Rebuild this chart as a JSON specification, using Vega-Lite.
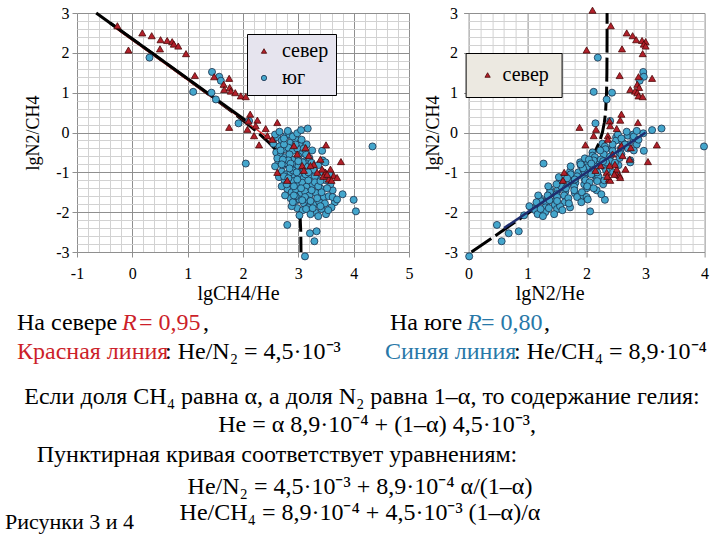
{
"$schema":"https://vega.github.io/schema/vega-lite/v6.json",
"background":"white",
"padding":{"left":5,"top":5,"right":0,"bottom":0},
"config":{"font":"Liberation Serif","view":{"stroke":null},
 "axis":{"labelFont":"Liberation Serif","titleFont":"Liberation Serif","labelFontSize":16,"titleFontSize":18,"titleFontWeight":"normal","labelColor":"#000","titleColor":"#000","domain":false,"tickColor":"#8f8f8f","gridOpacity":1,"labelOverlap":false,"labelFlush":false,"labelBound":false}},
"datasets":{
"pts":[
{"g":"юг","a":2.62,"b":-0.12,"c":2.50},{"g":"юг","a":2.70,"b":-0.20,"c":2.50},{"g":"юг","a":2.78,"b":-0.08,"c":2.70},{"g":"юг","a":2.86,"b":-0.25,"c":2.61},{"g":"юг","a":2.94,"b":-0.15,"c":2.79},{"g":"юг","a":3.02,"b":-0.30,"c":2.72},{"g":"юг","a":2.55,"b":-0.28,"c":2.27},{"g":"юг","a":2.66,"b":-0.35,"c":2.31},{"g":"юг","a":2.74,"b":-0.42,"c":2.32},{"g":"юг","a":2.82,"b":-0.38,"c":2.44},
{"g":"юг","a":2.90,"b":-0.46,"c":2.44},{"g":"юг","a":2.98,"b":-0.40,"c":2.58},{"g":"юг","a":3.08,"b":-0.52,"c":2.56},{"g":"юг","a":2.60,"b":-0.50,"c":2.10},{"g":"юг","a":2.68,"b":-0.58,"c":2.10},{"g":"юг","a":2.76,"b":-0.62,"c":2.14},{"g":"юг","a":2.84,"b":-0.55,"c":2.29},{"g":"юг","a":2.92,"b":-0.68,"c":2.24},{"g":"юг","a":3.00,"b":-0.60,"c":2.40},{"g":"юг","a":3.12,"b":-0.72,"c":2.40},
{"g":"юг","a":3.20,"b":-0.64,"c":2.56},{"g":"юг","a":2.64,"b":-0.75,"c":1.89},{"g":"юг","a":2.72,"b":-0.82,"c":1.90},{"g":"юг","a":2.80,"b":-0.78,"c":2.02},{"g":"юг","a":2.88,"b":-0.88,"c":2.00},{"g":"юг","a":2.96,"b":-0.80,"c":2.16},{"g":"юг","a":3.04,"b":-0.92,"c":2.12},{"g":"юг","a":3.16,"b":-0.86,"c":2.30},{"g":"юг","a":3.28,"b":-0.95,"c":2.33},{"g":"юг","a":2.70,"b":-0.98,"c":1.72},
{"g":"юг","a":2.78,"b":-1.05,"c":1.73},{"g":"юг","a":2.86,"b":-1.00,"c":1.86},{"g":"юг","a":2.94,"b":-1.10,"c":1.84},{"g":"юг","a":3.02,"b":-1.04,"c":1.98},{"g":"юг","a":3.10,"b":-1.14,"c":1.96},{"g":"юг","a":3.22,"b":-1.08,"c":2.14},{"g":"юг","a":3.35,"b":-1.18,"c":2.17},{"g":"юг","a":2.75,"b":-1.20,"c":1.55},{"g":"юг","a":2.83,"b":-1.28,"c":1.55},{"g":"юг","a":2.91,"b":-1.22,"c":1.69},
{"g":"юг","a":2.99,"b":-1.32,"c":1.67},{"g":"юг","a":3.07,"b":-1.26,"c":1.81},{"g":"юг","a":3.15,"b":-1.36,"c":1.79},{"g":"юг","a":3.26,"b":-1.30,"c":1.96},{"g":"юг","a":3.40,"b":-1.40,"c":2.00},{"g":"юг","a":2.80,"b":-1.42,"c":1.38},{"g":"юг","a":2.88,"b":-1.50,"c":1.38},{"g":"юг","a":2.96,"b":-1.45,"c":1.51},{"g":"юг","a":3.04,"b":-1.55,"c":1.49},{"g":"юг","a":3.12,"b":-1.48,"c":1.64},
{"g":"юг","a":3.20,"b":-1.58,"c":1.62},{"g":"юг","a":3.32,"b":-1.52,"c":1.80},{"g":"юг","a":3.46,"b":-1.62,"c":1.84},{"g":"юг","a":2.86,"b":-1.65,"c":1.21},{"g":"юг","a":2.94,"b":-1.72,"c":1.22},{"g":"юг","a":3.02,"b":-1.68,"c":1.34},{"g":"юг","a":3.10,"b":-1.78,"c":1.32},{"g":"юг","a":3.18,"b":-1.70,"c":1.48},{"g":"юг","a":3.28,"b":-1.82,"c":1.46},{"g":"юг","a":3.38,"b":-1.75,"c":1.63},
{"g":"юг","a":3.55,"b":-1.60,"c":1.95},{"g":"юг","a":2.98,"b":-1.90,"c":1.08},{"g":"юг","a":3.08,"b":-1.95,"c":1.13},{"g":"юг","a":3.18,"b":-1.88,"c":1.30},{"g":"юг","a":3.30,"b":-2.00,"c":1.30},{"g":"юг","a":3.42,"b":-1.92,"c":1.50},{"g":"юг","a":3.50,"b":-2.05,"c":1.45},{"g":"юг","a":3.62,"b":-1.45,"c":2.17},{"g":"юг","a":3.58,"b":-1.30,"c":2.28},{"g":"юг","a":3.50,"b":-1.20,"c":2.30},
{"g":"юг","a":3.45,"b":-1.00,"c":2.45},{"g":"юг","a":3.36,"b":-0.82,"c":2.54},{"g":"юг","a":3.25,"b":-0.45,"c":2.80},{"g":"юг","a":3.15,"b":-0.30,"c":2.85},{"g":"юг","a":2.70,"b":-1.35,"c":1.35},{"g":"юг","a":2.76,"b":-1.58,"c":1.18},{"g":"юг","a":2.84,"b":-0.05,"c":2.79},{"g":"юг","a":2.58,"b":-0.85,"c":1.73},{"g":"юг","a":2.65,"b":-1.12,"c":1.53},{"g":"юг","a":3.34,"b":-1.65,"c":1.69},
{"g":"юг","a":3.66,"b":-1.75,"c":1.91},{"g":"юг","a":3.22,"b":-2.05,"c":1.17},{"g":"юг","a":2.92,"b":-1.35,"c":1.57},{"g":"юг","a":3.00,"b":-0.85,"c":2.15},{"g":"юг","a":3.10,"b":-0.98,"c":2.12},{"g":"юг","a":2.82,"b":-0.70,"c":2.12},{"g":"юг","a":3.18,"b":-1.20,"c":1.98},{"g":"юг","a":3.05,"b":-1.40,"c":1.65},{"g":"юг","a":2.95,"b":-0.30,"c":2.65},{"g":"юг","a":3.30,"b":-1.10,"c":2.20},
{"g":"юг","a":2.74,"b":-0.30,"c":2.44},{"g":"юг","a":3.42,"b":-1.50,"c":1.92},{"g":"юг","a":2.88,"b":-1.85,"c":1.03},{"g":"юг","a":3.12,"b":-1.62,"c":1.50},{"g":"юг","a":2.68,"b":-0.45,"c":2.23},{"g":"юг","a":3.60,"b":-1.88,"c":1.72},{"g":"юг","a":3.48,"b":-1.78,"c":1.70},{"g":"юг","a":2.90,"b":-0.95,"c":1.95},{"g":"юг","a":3.08,"b":-0.75,"c":2.33},{"g":"юг","a":2.98,"b":-1.18,"c":1.80},
{"g":"юг","a":2.58,"b":-0.05,"c":2.53},{"g":"юг","a":2.66,"b":0.02,"c":2.68},{"g":"юг","a":2.74,"b":-0.15,"c":2.59},{"g":"юг","a":2.90,"b":-0.10,"c":2.80},{"g":"юг","a":3.06,"b":-0.18,"c":2.88},{"g":"юг","a":2.62,"b":-0.65,"c":1.97},{"g":"юг","a":2.72,"b":-0.68,"c":2.04},{"g":"юг","a":2.86,"b":-0.78,"c":2.08},{"g":"юг","a":3.14,"b":-0.55,"c":2.59},{"g":"юг","a":3.24,"b":-0.76,"c":2.48},
{"g":"юг","a":2.74,"b":-1.10,"c":1.64},{"g":"юг","a":2.82,"b":-1.15,"c":1.67},{"g":"юг","a":2.97,"b":-1.00,"c":1.97},{"g":"юг","a":3.13,"b":-1.05,"c":2.08},{"g":"юг","a":3.30,"b":-1.25,"c":2.05},{"g":"юг","a":2.79,"b":-1.30,"c":1.49},{"g":"юг","a":2.95,"b":-1.60,"c":1.35},{"g":"юг","a":3.07,"b":-1.70,"c":1.37},{"g":"юг","a":3.24,"b":-1.45,"c":1.79},{"g":"юг","a":3.36,"b":-1.35,"c":2.01},
{"g":"юг","a":2.90,"b":-1.75,"c":1.15},{"g":"юг","a":3.14,"b":-1.92,"c":1.22},{"g":"юг","a":3.26,"b":-1.90,"c":1.36},{"g":"юг","a":3.40,"b":-1.85,"c":1.55},{"g":"юг","a":3.54,"b":-1.95,"c":1.59},{"g":"юг","a":3.02,"b":-2.08,"c":0.94},{"g":"юг","a":3.36,"b":-2.10,"c":1.26},{"g":"юг","a":3.62,"b":-1.62,"c":2.00},{"g":"юг","a":3.52,"b":-1.40,"c":2.12},{"g":"юг","a":3.40,"b":-1.22,"c":2.18},
{"g":"юг","a":3.00,"b":-0.72,"c":2.28},{"g":"юг","a":3.18,"b":-1.00,"c":2.18},{"g":"юг","a":2.92,"b":-1.58,"c":1.34},{"g":"юг","a":3.22,"b":-1.72,"c":1.50},{"g":"юг","a":2.84,"b":-0.90,"c":1.94},{"g":"юг","a":3.10,"b":-0.40,"c":2.70},{"g":"юг","a":2.98,"b":-0.02,"c":2.96},{"g":"юг","a":2.70,"b":-0.80,"c":1.90},{"g":"юг","a":3.44,"b":-0.70,"c":2.74},{"g":"юг","a":3.56,"b":-1.05,"c":2.51},
{"g":"юг","a":0.31,"b":1.88,"c":2.19},{"g":"юг","a":1.10,"b":1.02,"c":2.12},{"g":"юг","a":1.44,"b":1.52,"c":2.96},{"g":"юг","a":1.57,"b":1.40,"c":2.97},{"g":"юг","a":1.60,"b":1.30,"c":2.90},{"g":"юг","a":1.43,"b":1.00,"c":2.43},{"g":"юг","a":1.51,"b":0.83,"c":2.34},{"g":"юг","a":1.92,"b":0.23,"c":2.15},{"g":"юг","a":2.11,"b":0.29,"c":2.40},{"g":"юг","a":2.05,"b":-0.78,"c":1.27},
{"g":"юг","a":2.81,"b":0.04,"c":2.85},{"g":"юг","a":3.05,"b":0.06,"c":3.11},{"g":"юг","a":3.17,"b":0.10,"c":3.27},{"g":"юг","a":4.34,"b":-0.35,"c":3.99},{"g":"юг","a":4.00,"b":-1.69,"c":2.31},{"g":"юг","a":4.04,"b":-1.98,"c":2.06},{"g":"юг","a":2.80,"b":-2.32,"c":0.48},{"g":"юг","a":3.21,"b":-2.53,"c":0.68},{"g":"юг","a":3.33,"b":-2.48,"c":0.85},{"g":"юг","a":3.29,"b":-2.73,"c":0.56},
{"g":"юг","a":3.12,"b":-3.11,"c":0.01},{"g":"юг","a":3.80,"b":-1.55,"c":2.25},{"g":"юг","a":3.70,"b":-1.68,"c":2.02},{"g":"юг","a":3.43,"b":-0.46,"c":2.97},{"g":"юг","a":3.49,"b":-0.75,"c":2.74},
{"g":"север","a":-0.27,"b":2.68,"c":2.41},{"g":"север","a":-0.07,"b":2.07,"c":2.00},{"g":"север","a":0.18,"b":2.50,"c":2.68},{"g":"север","a":0.35,"b":2.43,"c":2.78},{"g":"север","a":0.50,"b":2.10,"c":2.60},{"g":"север","a":0.51,"b":2.33,"c":2.84},{"g":"север","a":0.63,"b":2.31,"c":2.94},{"g":"север","a":0.72,"b":2.28,"c":3.00},{"g":"север","a":0.75,"b":2.22,"c":2.97},{"g":"север","a":0.83,"b":2.17,"c":3.00},
{"g":"север","a":0.97,"b":1.98,"c":2.95},{"g":"север","a":1.13,"b":1.43,"c":2.56},{"g":"север","a":1.48,"b":1.40,"c":2.88},{"g":"север","a":1.65,"b":1.21,"c":2.86},{"g":"север","a":1.66,"b":1.08,"c":2.74},{"g":"север","a":1.75,"b":1.36,"c":3.11},{"g":"север","a":1.76,"b":1.13,"c":2.89},{"g":"север","a":1.78,"b":1.04,"c":2.82},{"g":"север","a":1.86,"b":1.00,"c":2.86},{"g":"север","a":1.96,"b":0.92,"c":2.88},
{"g":"север","a":2.05,"b":0.90,"c":2.95},{"g":"север","a":1.75,"b":0.13,"c":1.88},{"g":"север","a":2.13,"b":0.46,"c":2.59},{"g":"север","a":2.10,"b":0.29,"c":2.39},{"g":"север","a":2.26,"b":0.31,"c":2.57},{"g":"север","a":2.23,"b":0.17,"c":2.40},{"g":"север","a":2.08,"b":0.08,"c":2.16},{"g":"север","a":2.20,"b":-0.08,"c":2.12},{"g":"север","a":2.29,"b":-0.31,"c":1.98},{"g":"север","a":2.41,"b":0.10,"c":2.51},
{"g":"север","a":2.62,"b":0.25,"c":2.87},{"g":"север","a":2.44,"b":-0.08,"c":2.36},{"g":"север","a":2.53,"b":-0.17,"c":2.36},{"g":"север","a":2.62,"b":-1.00,"c":1.62},{"g":"север","a":2.80,"b":-1.20,"c":1.60},{"g":"север","a":3.13,"b":-0.38,"c":2.75},{"g":"север","a":3.50,"b":-0.31,"c":3.19},{"g":"север","a":3.40,"b":-0.67,"c":2.73},{"g":"север","a":3.77,"b":-0.73,"c":3.04},{"g":"север","a":3.58,"b":-0.92,"c":2.66},
{"g":"север","a":3.49,"b":-1.00,"c":2.49},{"g":"север","a":3.64,"b":-1.08,"c":2.56},{"g":"север","a":3.55,"b":-1.17,"c":2.38},{"g":"север","a":3.70,"b":-1.13,"c":2.57},{"g":"север","a":3.43,"b":-0.92,"c":2.51},{"g":"север","a":3.28,"b":-0.80,"c":2.48},{"g":"север","a":3.34,"b":-1.00,"c":2.34},{"g":"север","a":3.19,"b":-0.58,"c":2.61},{"g":"север","a":3.07,"b":-0.83,"c":2.24},{"g":"север","a":3.22,"b":-0.83,"c":2.39},
{"g":"север","a":2.98,"b":-0.54,"c":2.44},{"g":"север","a":2.92,"b":-0.33,"c":2.59},{"g":"север","a":-0.97,"b":3.07,"c":2.10},{"g":"север","a":3.60,"b":-1.20,"c":2.40},{"g":"север","a":3.45,"b":-1.10,"c":2.35},{"g":"север","a":3.52,"b":-1.05,"c":2.47},{"g":"север","a":3.10,"b":-0.95,"c":2.15}
],
"curve":[
{"a":-0.653,"b":3,"c":2.347},{"a":-0.154,"b":2.5,"c":2.347},{"a":0.346,"b":2,"c":2.346},{"a":0.844,"b":1.5,"c":2.344},{"a":1.338,"b":1,"c":2.338},{"a":1.821,"b":0.5,"c":2.321},{"a":2.051,"b":0.25,"c":2.301},{"a":2.268,"b":0,"c":2.268},{"a":2.466,"b":-0.25,"c":2.216},{"a":2.636,"b":-0.5,"c":2.136},{"a":2.772,"b":-0.75,"c":2.022},{"a":2.873,"b":-1,"c":1.873},{"a":2.942,"b":-1.25,"c":1.692},{"a":2.986,"b":-1.5,"c":1.486},{"a":3.013,"b":-1.75,"c":1.263},{"a":3.029,"b":-2,"c":1.029},{"a":3.044,"b":-2.5,"c":0.544},{"a":3.048,"b":-3,"c":0.048}
],
"regK":[{"a":-0.4,"b":2.75},{"a":2.05,"b":0.3}],
"regN":[{"a":-0.3,"b":2.62},{"a":2.6,"b":-0.28}],
"regS":[{"c":0.6,"b":-2.4},{"c":3.0,"b":0.0}],
"txt":[
{"t":"На севере","px":17,"py":323,"tone":"k","kind":"n"},
{"t":"R","px":122,"py":323,"tone":"r","kind":"i"},
{"t":"= 0,95","px":139,"py":323,"tone":"r","kind":"n"},
{"t":",","px":203,"py":323,"tone":"k","kind":"n"},
{"t":"На юге","px":390,"py":323,"tone":"k","kind":"n"},
{"t":"R","px":467,"py":323,"tone":"b","kind":"i"},
{"t":"= 0,80","px":481,"py":323,"tone":"b","kind":"n"},
{"t":",","px":544,"py":323,"tone":"k","kind":"n"},
{"t":"Красная линия","px":17,"py":352,"tone":"r","kind":"n"},
{"t":":  He/N₂  = 4,5·10⁻³","px":165,"py":352,"tone":"k","kind":"n"},
{"t":"Синяя линия","px":385,"py":352,"tone":"b","kind":"n"},
{"t":": He/CH₄ = 8,9·10⁻⁴","px":514,"py":352,"tone":"k","kind":"n"},
{"t":"Если доля CH₄ равна α, а доля N₂ равна 1–α, то содержание гелия:","px":362,"py":397,"tone":"k","kind":"c"},
{"t":"He = α 8,9·10⁻⁴ + (1–α) 4,5·10⁻³,","px":377,"py":425,"tone":"k","kind":"c"},
{"t":"Пунктирная кривая соответствует уравнениям:","px":277,"py":455,"tone":"k","kind":"c"},
{"t":"He/N₂ = 4,5·10⁻³ + 8,9·10⁻⁴ α/(1–α)","px":360,"py":487,"tone":"k","kind":"c"},
{"t":"He/CH₄ = 8,9·10⁻⁴ + 4,5·10⁻³ (1–α)/α","px":360,"py":513,"tone":"k","kind":"c"},
{"t":"Рисунки 3 и 4","px":5,"py":522,"tone":"k","kind":"s"}
]
},
"spacing":0,
"vconcat":[
{"hconcat":[
{"width":332,"height":239,
 "encoding":{
  "x":{"field":"a","type":"quantitative","scale":{"domain":[-1,5],"nice":false,"zero":false},
   "axis":{"title":"lgCH4/He","titleFontSize":20,"titleX":161,"titlePadding":2,"labelPadding":8,
    "values":[-1,-0.8,-0.6,-0.4,-0.2,0,0.2,0.4,0.6,0.8,1,1.2,1.4,1.6,1.8,2,2.2,2.4,2.6,2.8,3,3.2,3.4,3.6,3.8,4,4.2,4.4,4.6,4.8,5],
    "labelExpr":"datum.value % 1 === 0 ? '' + datum.value : ''",
    "gridColor":{"condition":{"test":"datum.value % 1 === 0","value":"#8f8f8f"},"value":"#d2d2d2"},
    "tickSize":{"condition":{"test":"datum.value % 1 === 0","value":5},"value":0}}},
  "y":{"field":"b","type":"quantitative","scale":{"domain":[-3,3],"nice":false,"zero":false},
   "axis":{"title":"lgN2/CH4","titlePadding":13,"labelPadding":3,
    "values":[-3,-2.8,-2.6,-2.4,-2.2,-2,-1.8,-1.6,-1.4,-1.2,-1,-0.8,-0.6,-0.4,-0.2,0,0.2,0.4,0.6,0.8,1,1.2,1.4,1.6,1.8,2,2.2,2.4,2.6,2.8,3],
    "labelExpr":"datum.value % 1 === 0 ? '' + datum.value : ''",
    "gridColor":{"condition":{"test":"datum.value % 1 === 0","value":"#8f8f8f"},"value":"#d2d2d2"},
    "tickSize":{"condition":{"test":"datum.value % 1 === 0","value":5},"value":0}}}
 },
 "layer":[
  {"data":{"name":"curve"},"mark":{"type":"line","color":"#000","strokeWidth":3,"strokeDash":[24,5]},"encoding":{"order":{"field":"b","type":"quantitative","sort":"descending"}}},
  {"data":{"name":"regN"},"mark":{"type":"line","color":"#d42a2a","strokeWidth":1.5},"encoding":{}},
  {"data":{"name":"regK"},"mark":{"type":"line","color":"#000","strokeWidth":3},"encoding":{}},
  {"data":{"name":"pts"},"transform":[{"filter":"datum.b <= 3"}],
   "mark":{"type":"point","filled":true,"opacity":1,"size":50,"strokeWidth":0.8,"clip":false},
   "encoding":{
    "shape":{"field":"g","type":"nominal","scale":{"domain":["север","юг"],"range":["triangle-up","circle"]},
     "legend":{"title":null,"orient":"none","legendX":170,"legendY":21,"fillColor":"#e6e4ee","strokeColor":"#000","padding":7,"rowPadding":7,"labelFont":"Liberation Serif","labelFontSize":20,"labelColor":"#000","labelOffset":8,"symbolSize":28,"symbolStrokeWidth":0.8}},
    "fill":{"field":"g","type":"nominal","scale":{"domain":["север","юг"],"range":["#b3202a","#44a6cc"]}},
    "stroke":{"field":"g","type":"nominal","scale":{"domain":["север","юг"],"range":["#4a0808","#1b2f4a"]}}
   }}
 ]},
{"width":236,"height":239,
 "encoding":{
  "x":{"field":"c","type":"quantitative","scale":{"domain":[0,4],"nice":false,"zero":false},
   "axis":{"title":"lgN2/He","titleFontSize":20,"titleX":81,"titlePadding":2,"labelPadding":8,
    "values":[0,0.2,0.4,0.6,0.8,1,1.2,1.4,1.6,1.8,2,2.2,2.4,2.6,2.8,3,3.2,3.4,3.6,3.8,4],
    "labelExpr":"datum.value % 1 === 0 ? '' + datum.value : ''",
    "gridColor":{"condition":{"test":"datum.value % 1 === 0","value":"#8f8f8f"},"value":"#d2d2d2"},
    "tickSize":{"condition":{"test":"datum.value % 1 === 0","value":5},"value":0}}},
  "y":{"field":"b","type":"quantitative","scale":{"domain":[-3,3],"nice":false,"zero":false},
   "axis":{"title":"lgN2/CH4","titlePadding":2,"labelPadding":6,
    "values":[-3,-2.8,-2.6,-2.4,-2.2,-2,-1.8,-1.6,-1.4,-1.2,-1,-0.8,-0.6,-0.4,-0.2,0,0.2,0.4,0.6,0.8,1,1.2,1.4,1.6,1.8,2,2.2,2.4,2.6,2.8,3],
    "labelExpr":"datum.value % 1 === 0 ? '' + datum.value : ''",
    "gridColor":{"condition":{"test":"datum.value % 1 === 0","value":"#8f8f8f"},"value":"#d2d2d2"},
    "tickSize":{"condition":{"test":"datum.value % 1 === 0","value":5},"value":0}}}
 },
 "layer":[
  {"data":{"name":"curve"},"mark":{"type":"line","color":"#000","strokeWidth":3,"strokeDash":[24,5]},"encoding":{"order":{"field":"b","type":"quantitative","sort":"ascending"}}},
  {"data":{"name":"pts"},
   "mark":{"type":"point","filled":true,"opacity":1,"size":50,"strokeWidth":0.8,"clip":false},
   "encoding":{
    "shape":{"field":"g","type":"nominal","scale":{"domain":["север","юг"],"range":["triangle-up","circle"]},
     "legend":{"title":null,"values":["север"],"orient":"none","legendX":-3,"legendY":40,"fillColor":"#ece9e1","strokeColor":"#000","padding":12,"labelFont":"Liberation Serif","labelFontSize":20,"labelColor":"#000","labelOffset":5,"symbolSize":28,"symbolStrokeWidth":0.8}},
    "fill":{"field":"g","type":"nominal","scale":{"domain":["север","юг"],"range":["#b3202a","#44a6cc"]}},
    "stroke":{"field":"g","type":"nominal","scale":{"domain":["север","юг"],"range":["#4a0808","#1b2f4a"]}}
   }},
  {"data":{"name":"regS"},"mark":{"type":"line","color":"#1f2d6e","strokeWidth":2.5},"encoding":{}}
 ]}
],
"spacing":59.6,"bounds":"flush",
"resolve":{"scale":{"shape":"independent","fill":"independent","stroke":"independent"}}},
{"width":630,"height":235,
 "data":{"name":"txt"},
 "encoding":{
  "x":{"field":"px","type":"quantitative","scale":{"domain":[77,707],"nice":false,"zero":false},"axis":null},
  "y":{"field":"py","type":"quantitative","scale":{"domain":[303,538],"nice":false,"zero":false,"reverse":true},"axis":null},
  "text":{"field":"t"},
  "color":{"field":"tone","type":"nominal","scale":{"domain":["k","r","b"],"range":["#000000","#cc1f2a","#2878a8"]},"legend":null}
 },
 "layer":[
  {"transform":[{"filter":"datum.kind === 'n'"}],"mark":{"type":"text","align":"left","baseline":"middle","fontSize":24,"font":"Liberation Serif"}},
  {"transform":[{"filter":"datum.kind === 'i'"}],"mark":{"type":"text","align":"left","baseline":"middle","fontSize":24,"fontStyle":"italic","font":"Liberation Serif"}},
  {"transform":[{"filter":"datum.kind === 'c'"}],"mark":{"type":"text","align":"center","baseline":"middle","fontSize":24,"font":"Liberation Serif"}},
  {"transform":[{"filter":"datum.kind === 's'"}],"mark":{"type":"text","align":"left","baseline":"middle","fontSize":22,"font":"Liberation Serif"}}
 ]}
]
}
